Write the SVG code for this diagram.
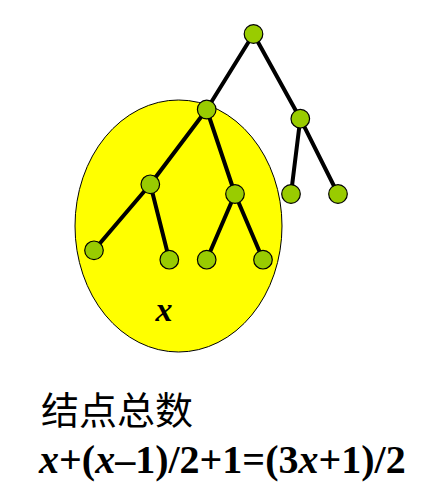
<svg xmlns="http://www.w3.org/2000/svg" width="438" height="502" viewBox="0 0 438 502">
<style>
.n{fill:#99cc00;stroke:#000;stroke-width:1.2}
.e line{stroke:#000;stroke-width:4;stroke-linecap:round}
.t{font-family:"Liberation Serif","Times New Roman",serif;font-weight:bold;fill:#000}
.cjk{font-family:"Noto Sans CJK SC","Noto Sans CJK JP",sans-serif;fill:#000}
</style>
<rect width="438" height="502" fill="#fff"/>
<ellipse id="subtree" cx="178.5" cy="226" rx="103.5" ry="126" fill="#ffff00" stroke="#000" stroke-width="1"/>
<g id="edges" class="e">
<line x1="253.5" y1="34" x2="206.7" y2="109.5"/>
<line x1="253.5" y1="34" x2="300.3" y2="118.7"/>
<line x1="206.7" y1="109.5" x2="150.3" y2="184.3"/>
<line x1="206.7" y1="109.5" x2="235" y2="194"/>
<line x1="300.3" y1="118.7" x2="291" y2="194"/>
<line x1="300.3" y1="118.7" x2="338" y2="194"/>
<line x1="150.3" y1="184.3" x2="94" y2="250.3"/>
<line x1="150.3" y1="184.3" x2="169.3" y2="259.7"/>
<line x1="235" y1="194" x2="206.7" y2="259.7"/>
<line x1="235" y1="194" x2="263" y2="259.7"/>
</g>
<g id="root"><circle class="n" cx="253.5" cy="34" r="9.3"/></g>
<g id="nA"><circle class="n" cx="206.7" cy="109.5" r="9.3"/></g>
<g id="nB"><circle class="n" cx="300.3" cy="118.7" r="9.3"/></g>
<g id="nC"><circle class="n" cx="150.3" cy="184.3" r="9.3"/></g>
<g id="nD"><circle class="n" cx="235" cy="194" r="9.3"/></g>
<g id="nE"><circle class="n" cx="291" cy="194" r="9.3"/></g>
<g id="nF"><circle class="n" cx="338" cy="194" r="9.3"/></g>
<g id="nG"><circle class="n" cx="94" cy="250.3" r="9.3"/></g>
<g id="nH"><circle class="n" cx="169.3" cy="259.7" r="9.3"/></g>
<g id="nI"><circle class="n" cx="206.7" cy="259.7" r="9.3"/></g>
<g id="nJ"><circle class="n" cx="263" cy="259.7" r="9.3"/></g>
<text class="t" x="164" y="321" font-size="34" font-style="italic" text-anchor="middle">x</text>
<text class="cjk" x="41" y="424" font-size="38">结点总数</text>
<text class="t" x="39" y="473" font-size="40"><tspan font-style="italic">x</tspan>+(<tspan font-style="italic">x</tspan>–1)/2+1=(3<tspan font-style="italic">x</tspan>+1)/2</text>
</svg>
